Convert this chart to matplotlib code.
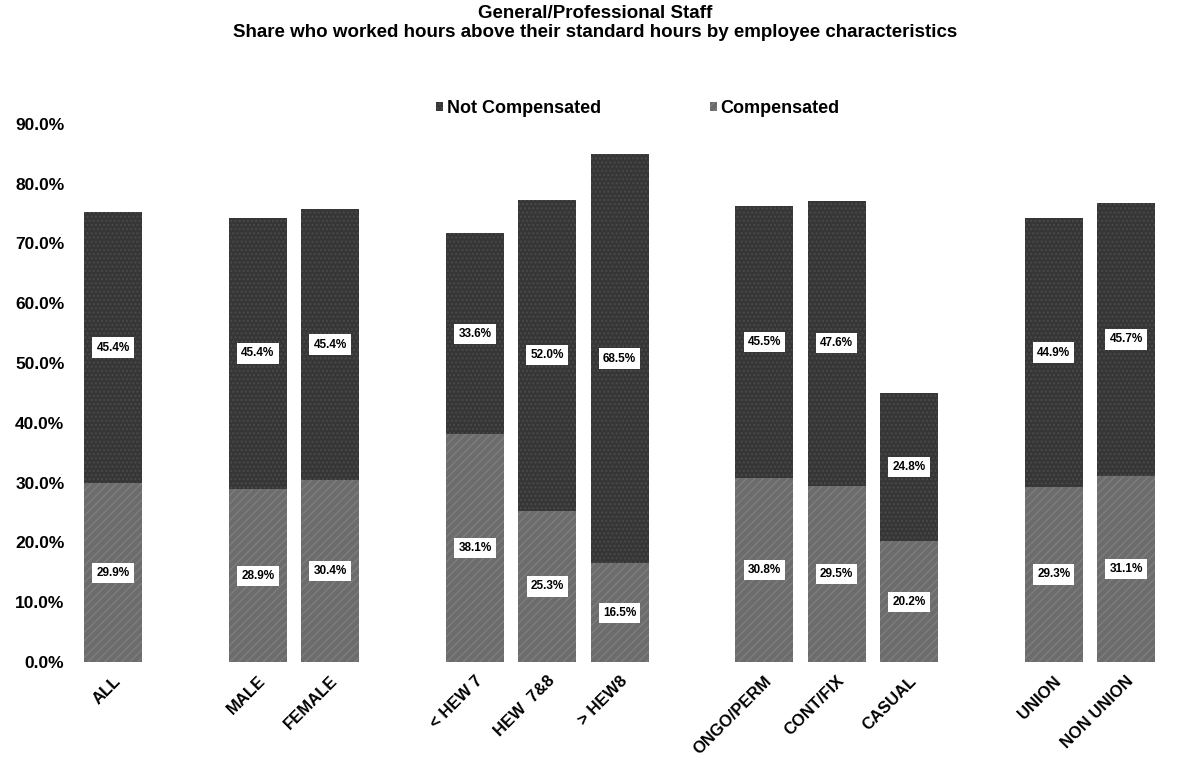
import matplotlib
matplotlib.use("Agg")
import matplotlib.pyplot as plt
import numpy as np

plt.rcParams['font.family'] = ['Liberation Sans', 'DejaVu Sans']

# empty strings are the spacer slots between the groups
categories = ['ALL', '', 'MALE', 'FEMALE', '', '< HEW 7', 'HEW  7&8', '> HEW8', '',
              'ONGO/PERM', 'CONT/FIX', 'CASUAL', '', 'UNION', 'NON UNION']
compensated = [29.9, None, 28.9, 30.4, None, 38.1, 25.3, 16.5, None,
               30.8, 29.5, 20.2, None, 29.3, 31.1]
not_compensated = [45.4, None, 45.4, 45.4, None, 33.6, 52.0, 68.5, None,
                   45.5, 47.6, 24.8, None, 44.9, 45.7]

title = 'General/Professional Staff\nShare who worked hours above their standard hours by employee characteristics'

fig = plt.figure(figsize=(11.9, 7.69), dpi=100)
ax = fig.add_axes([0.0647, 0.139, 0.912, 0.700])

x = np.arange(len(categories))
comp = np.array([v if v is not None else np.nan for v in compensated])
notc = np.array([v if v is not None else np.nan for v in not_compensated])

light = '#6c6c6c'
dark = '#363636'
width = 0.8
b1 = ax.bar(x, comp, width, color=light, hatch='////', edgecolor='#7e7e7e', linewidth=0,
            label='Compensated')
b2 = ax.bar(x, notc, width, bottom=comp, color=dark, hatch='....', edgecolor='#4a4a4a',
            linewidth=0, label='Not Compensated')

box = dict(boxstyle='square,pad=0.35', facecolor='white', edgecolor='none')
for i in range(len(x)):
    if np.isnan(comp[i]):
        continue
    ax.text(x[i], comp[i] / 2, f'{comp[i]:.1f}%', ha='center', va='center',
            fontsize=8.5, fontweight='bold', bbox=box)
    ax.text(x[i], comp[i] + notc[i] / 2, f'{notc[i]:.1f}%', ha='center', va='center',
            fontsize=8.5, fontweight='bold', bbox=box)

ax.set_xlim(-0.5, len(categories) - 0.5)
ax.set_ylim(0, 90)
ax.set_yticks(np.arange(0, 91, 10))
ax.set_yticklabels([f'{v:.1f}%' for v in np.arange(0, 91, 10)], fontsize=12.5, fontweight='bold')
ax.set_xticks(x)
ax.set_xticklabels(categories, rotation=45, ha='right', rotation_mode='anchor',
                   fontsize=12, fontweight='bold')
ax.tick_params(axis='y', length=0, pad=9)
ax.tick_params(axis='x', length=0, pad=8)
for s in ax.spines.values():
    s.set_visible(False)

fig.legend([b2, b1], ['Not Compensated', 'Compensated'], loc='center',
           bbox_to_anchor=(0.536, 0.859), ncol=2, frameon=False, handlelength=0.4,
           handleheight=0.4, handletextpad=0.2, columnspacing=6,
           prop={'weight': 'bold', 'size': 13})

fig.suptitle(title, fontsize=13.5, fontweight='bold', y=0.993, linespacing=1.15)

fig.savefig('out.png', dpi=100)
